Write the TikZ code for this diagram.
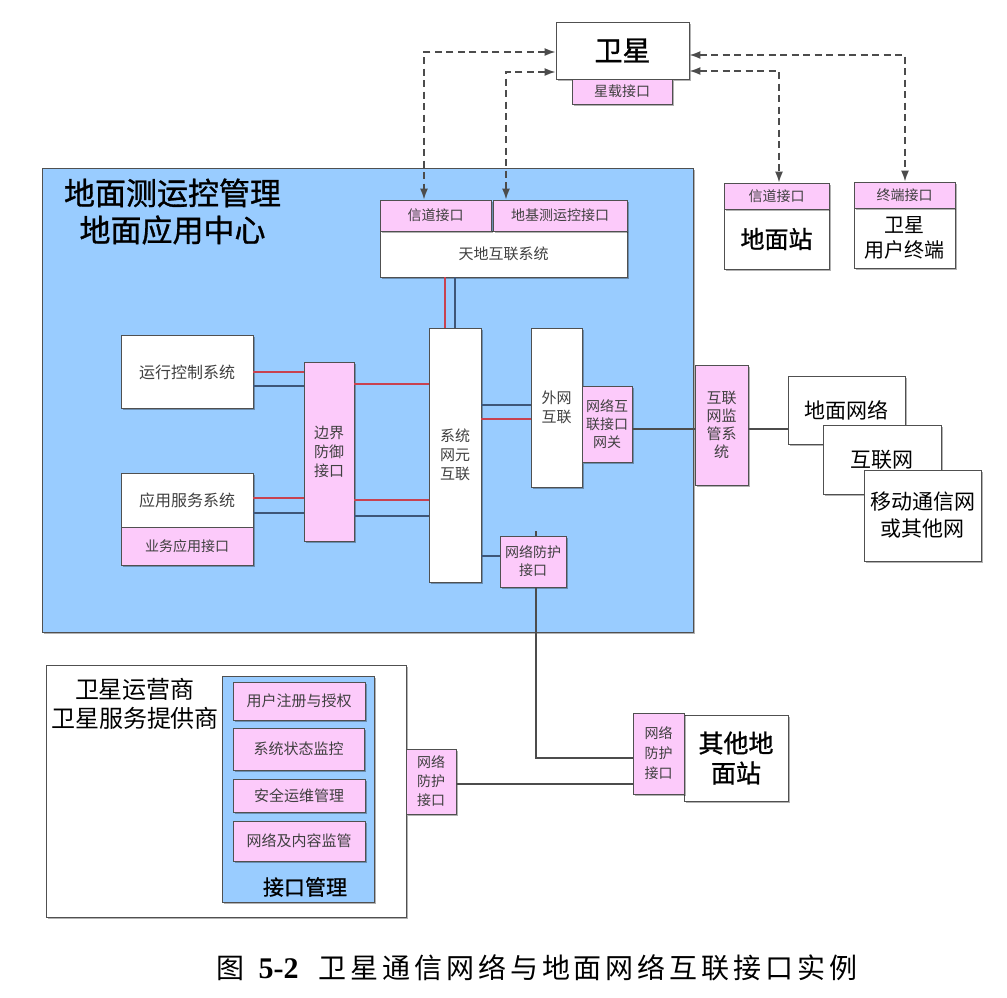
\documentclass[tikz,border=0pt]{standalone}
\usepackage{fontspec}
\setmainfont{Noto Sans CJK SC}
\newfontfamily\capfont[LetterSpace=14]{Noto Sans CJK SC}
\newfontfamily\bigfont[FakeBold=1]{Noto Sans CJK SC}
\newfontfamily\numfont{Liberation Serif}
\usetikzlibrary{arrows.meta,shadows}
\definecolor{bluebg}{RGB}{153,204,255}
\definecolor{pinkbg}{RGB}{252,202,250}
\definecolor{redln}{RGB}{200,66,80}
\definecolor{darkln}{RGB}{62,86,120}
\definecolor{edge}{RGB}{80,80,80}
\definecolor{smalltxt}{RGB}{64,64,64}
\begin{document}
\begin{tikzpicture}[x=1pt,y=-1pt,
  shad/.style={drop shadow={shadow xshift=1.5pt,shadow yshift=-1.5pt,opacity=0.3,fill=black}},
  base/.style={rectangle,draw=edge,line width=0.9pt,inner sep=0pt,align=center,shad},
  wbox/.style={base,fill=white},
  pbox/.style={base,fill=pinkbg},
  bbox/.style={base,fill=bluebg},
  fs/.style 2 args={font=\fontsize{#1}{#2}\selectfont},
  bfs/.style 2 args={font=\bigfont\fontsize{#1}{#2}\selectfont},
  stxt/.style={text=smalltxt},
  redl/.style={draw=redln,line width=2pt},
  darkl/.style={draw=darkln,line width=2pt},
  thinl/.style={draw=black!70,line width=1.4pt},
  dasharr/.style={draw=black!70,line width=1.6pt,dash pattern=on 7pt off 4.5pt,{Latex[length=11pt,width=8pt]}-{Latex[length=11pt,width=8pt]}},
]
\useasboundingbox (0,0) rectangle (1007,997);
\fill[white] (0,0) rectangle (1007,997);

% ---- ground center region
\node[bbox,minimum width=651pt,minimum height=464pt] (ctr) at (367.5,400) {};
\node[bfs={31}{37},align=center] (ttl) at (172.5,211.5) {地面测运控管理\\地面应用中心};

% ---- satellite
\node[wbox,minimum width=133pt,minimum height=57pt,bfs={28}{34}] (sat) at (622.5,50.5) {卫星};
\node[pbox,minimum width=100pt,minimum height=25pt,fs={14}{17},stxt] (satif) at (622,91.5) {星载接口};

% ---- tiandi system
\node[wbox,minimum width=247pt,minimum height=46pt,fs={15}{18},stxt] (tdhl) at (503.5,254) {天地互联系统};
\node[pbox,minimum width=111pt,minimum height=31pt,fs={14}{17},stxt] (ch1) at (435.5,215.5) {信道接口};
\node[pbox,minimum width=134pt,minimum height=31pt,fs={14}{17},stxt] (ch2) at (560,215.5) {地基测运控接口};

% ---- ground station / user terminal
\node[wbox,minimum width=105pt,minimum height=60pt,bfs={24}{28}] (gs) at (776.5,239) {地面站};
\node[pbox,minimum width=105pt,minimum height=26pt,fs={14}{17},stxt] (gsif) at (776.5,196) {信道接口};
\node[wbox,minimum width=101pt,minimum height=60pt,fs={20}{25}] (ut) at (904.5,238) {卫星\\用户终端};
\node[pbox,minimum width=101pt,minimum height=26pt,fs={14}{17},stxt] (utif) at (904.5,195) {终端接口};

% ---- inner systems
\node[wbox,minimum width=132pt,minimum height=73pt,fs={16}{19},stxt] (yxkz) at (187,372) {运行控制系统};
\node[wbox,minimum width=132pt,minimum height=54pt,fs={16}{19},stxt] (yyfw) at (187,500) {应用服务系统};
\node[pbox,minimum width=132pt,minimum height=38pt,fs={14}{17},stxt] (ywif) at (187,546) {业务应用接口};
\node[pbox,minimum width=50pt,minimum height=179pt,fs={15}{19},stxt] (bj) at (329,452) {边界\\防御\\接口};
\node[wbox,minimum width=52pt,minimum height=254pt,fs={15}{19},stxt] (xt) at (455,455) {系统\\网元\\互联};
\node[wbox,minimum width=51pt,minimum height=159pt,fs={15}{19},stxt] (ww) at (556.5,407.5) {外网\\互联};
\node[pbox,minimum width=50pt,minimum height=76pt,fs={14}{18},stxt] (gw) at (607,424) {网络互\\联接口\\网关};
\node[pbox,minimum width=66pt,minimum height=51pt,fs={14}{18},stxt] (fh1) at (533,561.5) {网络防护\\接口};

% ---- external networks
\node[pbox,minimum width=53pt,minimum height=120pt,fs={15}{18},stxt] (jg) at (721.5,425) {互联\\网监\\管系\\统};
\node[wbox,minimum width=117pt,minimum height=68pt,fs={21}{26}] (dmwl) at (846.5,410) {地面网络};
\node[wbox,minimum width=118pt,minimum height=69pt,fs={21}{26}] (hlw) at (882,459.5) {互联网};
\node[wbox,minimum width=117pt,minimum height=91pt,fs={21}{27}] (yd) at (922.5,515.5) {移动通信网\\或其他网};

% ---- operator
\node[wbox,minimum width=360pt,minimum height=252pt] (op) at (226,791) {};
\node[fs={24}{29},align=center] (optxt) at (135,703.5) {卫星运营商\\卫星服务提供商};
\node[bbox,minimum width=152pt,minimum height=226pt] (jk) at (298,789) {};
\node[pbox,minimum width=132pt,minimum height=38pt,fs={15}{18},stxt] (u1) at (299,701) {用户注册与授权};
\node[pbox,minimum width=131pt,minimum height=42pt,fs={15}{18},stxt] (u2) at (298.5,749) {系统状态监控};
\node[pbox,minimum width=132pt,minimum height=33pt,fs={15}{18},stxt] (u3) at (299,795.5) {安全运维管理};
\node[pbox,minimum width=132pt,minimum height=40pt,fs={15}{18},stxt] (u4) at (299,841) {网络及内容监管};
\node[bfs={21}{25}] (jktxt) at (305,887) {接口管理};
\node[pbox,minimum width=50pt,minimum height=65pt,fs={14}{19},stxt] (fh2) at (431,781.5) {网络\\防护\\接口};

% ---- other ground station
\node[wbox,minimum width=104pt,minimum height=86pt,bfs={25}{30}] (qt) at (736,758) {其他地\\面站};
\node[pbox,minimum width=51pt,minimum height=81pt,fs={14}{20},stxt] (fh3) at (658.5,753.5) {网络\\防护\\接口};

% ---- dashed satellite links
\draw[dasharr] ([yshift=-1.5pt]sat.west) -| ([xshift=-11.5pt]ch1.north);
\draw[dasharr] ([yshift=-21.5pt]sat.west) -| ([xshift=-54pt]ch2.north);
\draw[dasharr] ([yshift=-20.5pt]sat.east) -| ([xshift=2.5pt]gsif.north);
\draw[dasharr] ([yshift=-4.5pt]sat.east) -| ([xshift=0.5pt]utif.north);

% ---- internal links
\coordinate (t1) at ([xshift=-58.5pt]tdhl.south);
\coordinate (t2) at ([xshift=-48.5pt]tdhl.south);
\draw[redl] (t1) -- (t1 |- xt.north);
\draw[darkl] (t2) -- (t2 |- xt.north);

\coordinate (a1) at (yxkz.east);
\coordinate (a2) at ([yshift=-14pt]yxkz.east);
\draw[redl] (a1) -- (a1 -| bj.west);
\draw[darkl] (a2) -- (a2 -| bj.west);
\coordinate (a3) at ([yshift=68pt]bj.east);
\draw[redl] (a3) -- (a3 -| xt.west);

\coordinate (b1) at ([yshift=2pt]yyfw.east);
\coordinate (b2) at ([yshift=-13pt]yyfw.east);
\draw[redl] (b1) -- (b1 -| bj.west);
\draw[darkl] (b2) -- (b2 -| bj.west);
\coordinate (b3) at ([yshift=-48pt]bj.east);
\coordinate (b4) at ([yshift=-63.5pt]bj.east);
\draw[redl] (b3) -- (b3 -| xt.west);
\draw[darkl] (b4) -- (b4 -| xt.west);

\coordinate (c1) at ([yshift=50pt]xt.east);
\coordinate (c2) at ([yshift=36pt]xt.east);
\draw[darkl] (c1) -- (c1 -| ww.west);
\draw[redl] (c2) -- (c2 -| ww.west);
\coordinate (c3) at ([yshift=-101pt]xt.east);
\draw[darkl] (c3) -- (c3 -| fh1.west);

% ---- external links
\coordinate (e1) at ([yshift=-5pt]gw.east);
\draw[thinl] (e1) -- (e1 -| jg.west);
\coordinate (e2) at ([yshift=-4pt]jg.east);
\draw[thinl] (e2) -- (e2 -| dmwl.west);
\draw[thinl] ([xshift=3pt]fh1.north) -- ++(0,-5);
\draw[thinl] ([xshift=3pt]fh1.south) |- ([yshift=-4.5pt]fh3.west);
\coordinate (e3) at ([yshift=-2.5pt]fh2.east);
\draw[thinl] (e3) -- (e3 -| fh3.west);

% ---- caption
\node[font=\capfont\fontsize{28}{32}\selectfont] (cap) at (537,968) {图\hspace{14pt}{\numfont\bfseries\fontsize{30}{32}\selectfont 5-2}\hspace{20pt}卫星通信网络与地面网络互联接口实例};
\end{tikzpicture}
\end{document}
